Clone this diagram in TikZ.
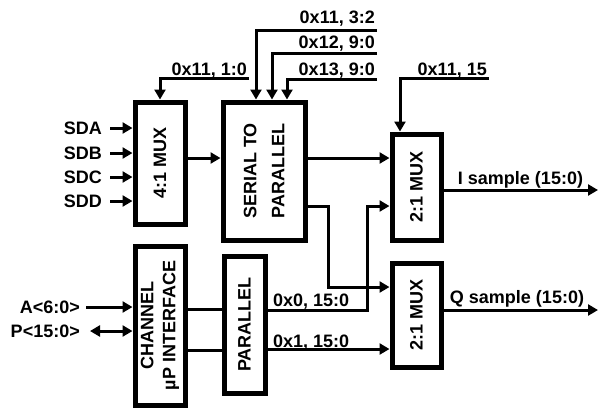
\documentclass[tikz,border=0pt]{standalone}
\usepackage{fontspec}
\setmainfont{Liberation Sans}
\usetikzlibrary{arrows.meta,positioning}
\begin{document}
\begin{tikzpicture}[x=1pt, y=-1pt,
  font=\fontsize{18}{20}\selectfont\bfseries,
  box/.style={draw, line width=5pt, inner sep=0pt},
  vlbl/.style={rotate=90, align=center, inner sep=0pt},
  arr/.style={-{Triangle[length=10pt, width=11pt]}, line width=3pt},
  dbl/.style={{Triangle[length=10pt, width=11pt]}-{Triangle[length=10pt, width=11pt]}, line width=3pt},
  wire/.style={line width=3pt},
  sig/.style={inner sep=2pt},
  reg/.style={inner sep=0pt}]
\useasboundingbox (0,0) rectangle (598,408);
\node[box, minimum width=50pt, minimum height=122pt] (mux4) at (160,163) {};
\node[vlbl] (mux4txt) at (mux4) {4:1 MUX};
\node[box, minimum width=82pt, minimum height=138pt] (s2p) at (264,171) {};
\node[vlbl] (s2ptxt) at (s2p) {SERIAL TO\\[8pt]PARALLEL};
\node[box, minimum width=49pt, minimum height=106pt] (muxi) at (416.5,187) {};
\node[vlbl] (muxitxt) at (muxi) {2:1 MUX};
\node[box, minimum width=49pt, minimum height=104pt] (muxq) at (416.5,315) {};
\node[vlbl] (muxqtxt) at (muxq) {2:1 MUX};
\node[box, minimum width=50pt, minimum height=159pt] (chan) at (160,325.5) {};
\node[vlbl] (chantxt) at (chan) {CHANNEL\\[2pt]µP INTERFACE};
\node[box, minimum width=41pt, minimum height=137pt] (par) at (244.5,324.5) {};
\node[vlbl] (partxt) at (par) {PARALLEL};

\node[sig, anchor=east] (sda) at (104,128) {SDA};
\node[sig, anchor=east] (sdb) at (104,153) {SDB};
\node[sig, anchor=east] (sdc) at (104,177) {SDC};
\node[sig, anchor=east] (sdd) at (104,201) {SDD};
\draw[arr] ([xshift=6pt]sda.east) -- (sda.east -| mux4.west);
\draw[arr] ([xshift=6pt]sdb.east) -- (sdb.east -| mux4.west);
\draw[arr] ([xshift=6pt]sdc.east) -- (sdc.east -| mux4.west);
\draw[arr] ([xshift=6pt]sdd.east) -- (sdd.east -| mux4.west);
\draw[arr] ([yshift=5pt]mux4.east) -- ([yshift=5pt]mux4.east -| s2p.west);

\coordinate (k1) at (249,78);
\node[reg, anchor=base east] (r1) at (247,75) {0x11, 1:0};
\draw[arr] (k1) -| (mux4.north);
\coordinate (k2) at (377,30);
\node[reg, anchor=base east] (r2) at (375,23) {0x11, 3:2};
\draw[arr] (k2) -| ([xshift=-8pt]s2p.north);
\coordinate (k3) at (377,53);
\node[reg, anchor=base east] (r3) at (375,48) {0x12, 9:0};
\draw[arr] (k3) -| ([xshift=8pt]s2p.north);
\coordinate (k4) at (377,79);
\node[reg, anchor=base east] (r4) at (375,75) {0x13, 9:0};
\draw[arr] (k4) -| ([xshift=23pt]s2p.north);
\coordinate (k5) at (489,78);
\node[reg, anchor=base east] (r5) at (487,75) {0x11, 15};
\draw[arr] (k5) -| ([xshift=-16.5pt]muxi.north);

\draw[arr] ([yshift=13pt]s2p.east) -- ([yshift=13pt]s2p.east -| muxi.west);
\draw[arr] ([yshift=-35pt]s2p.east) -- ++(21,0) |- ([yshift=28pt]muxq.west);
\draw[arr] ([yshift=14.5pt]par.east) -- ++(100,0) |- ([yshift=-19pt]muxi.west);
\draw[arr] ([yshift=-24.5pt]par.east) -- ([yshift=-24.5pt]par.east -| muxq.west);
\node[reg, anchor=base west] (r6) at (273,306) {0x0, 15:0};
\node[reg, anchor=base west] (r7) at (273,347) {0x1, 15:0};

\draw[wire] ([yshift=16.5pt]chan.east) -- ([yshift=16.5pt]chan.east -| par.west);
\draw[wire] ([yshift=-24.5pt]chan.east) -- ([yshift=-24.5pt]chan.east -| par.west);
\node[sig, anchor=east] (addr) at (82,307) {A<6:0>};
\node[sig, anchor=east] (data) at (82,331) {P<15:0>};
\draw[arr] ([xshift=4pt]addr.east) -- (addr.east -| chan.west);
\draw[dbl] ([xshift=8pt]data.east) -- (data.east -| chan.west);

\coordinate (iout) at (598,190);
\coordinate (qout) at (598,310);
\draw[arr] ([yshift=-3pt]muxi.east) -- (iout);
\draw[arr] ([yshift=5pt]muxq.east) -- (qout);
\node[reg, anchor=base] (isam) at (520.5,184) {I sample (15:0)};
\node[reg, anchor=base] (qsam) at (517,303) {Q sample (15:0)};
\end{tikzpicture}
\end{document}
